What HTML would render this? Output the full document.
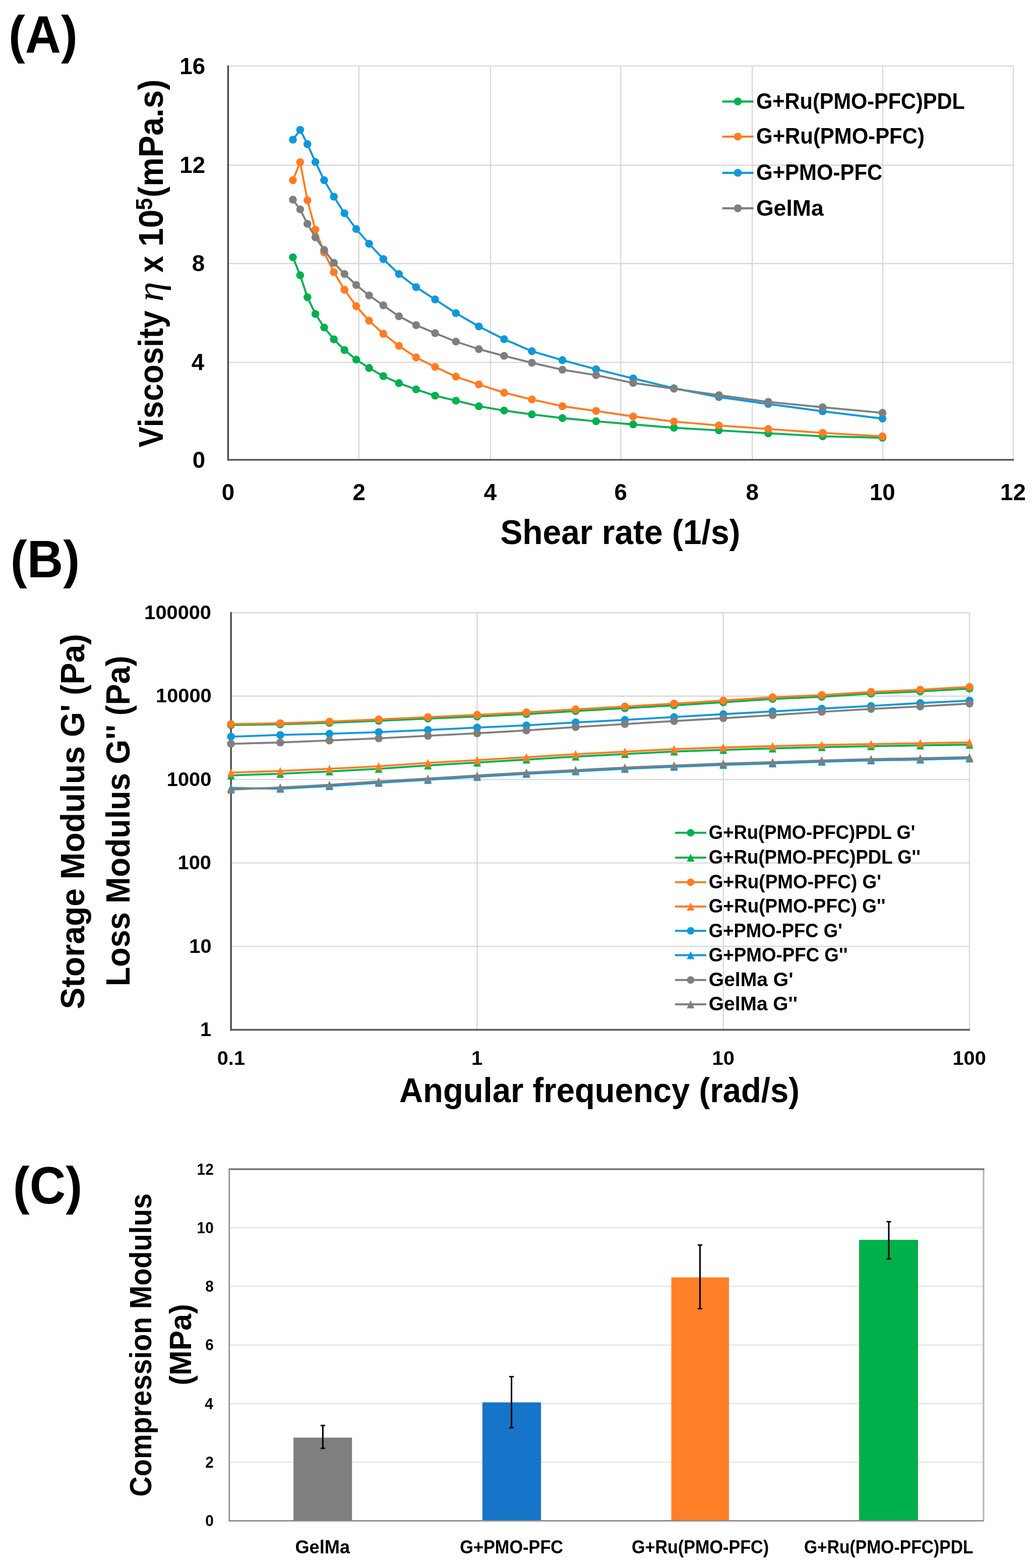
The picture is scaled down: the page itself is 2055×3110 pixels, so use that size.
<!DOCTYPE html>
<html><head><meta charset="utf-8"><title>Figure</title>
<style>html,body{margin:0;padding:0;background:#fff;}svg{display:block;}text{fill:#000;}</style></head><body>
<svg width="2055" height="3110" viewBox="0 0 2055 3110">
<rect width="2055" height="3110" fill="#fff"/>
<line x1="452.5" y1="718.6" x2="2010.1" y2="718.6" stroke="#D9D9D9" stroke-width="2.4"/>
<line x1="452.5" y1="522.8" x2="2010.1" y2="522.8" stroke="#D9D9D9" stroke-width="2.4"/>
<line x1="452.5" y1="327.7" x2="2010.1" y2="327.7" stroke="#D9D9D9" stroke-width="2.4"/>
<line x1="452.5" y1="130.9" x2="2010.1" y2="130.9" stroke="#D9D9D9" stroke-width="2.4"/>
<line x1="711.8" y1="130.9" x2="711.8" y2="912" stroke="#D9D9D9" stroke-width="2.4"/>
<line x1="973" y1="130.9" x2="973" y2="912" stroke="#D9D9D9" stroke-width="2.4"/>
<line x1="1231.4" y1="130.9" x2="1231.4" y2="912" stroke="#D9D9D9" stroke-width="2.4"/>
<line x1="1492.2" y1="130.9" x2="1492.2" y2="912" stroke="#D9D9D9" stroke-width="2.4"/>
<line x1="1751" y1="130.9" x2="1751" y2="912" stroke="#D9D9D9" stroke-width="2.4"/>
<line x1="2010.1" y1="130.9" x2="2010.1" y2="912" stroke="#D9D9D9" stroke-width="2.4"/>
<line x1="452.5" y1="129.9" x2="452.5" y2="913.5" stroke="#444444" stroke-width="3.2"/>
<line x1="451" y1="912" x2="2011.1" y2="912" stroke="#444444" stroke-width="3.2"/>
<polyline points="581,510.3 595.4,546 609.8,589.5 625.6,622.7 643,649.5 662.2,673.1 683.3,694.2 706.6,713.3 732.1,729.9 760.3,746 791.3,759.9 825.4,772.3 863,784.8 904.3,794.7 949.8,805.7 999.9,814.3 1055,821.9 1115.6,829.2 1182.4,835.6 1255.9,841.8 1336.8,848.5 1425.9,853.6 1523.9,859.4 1631.8,865.4 1750.5,868.3" fill="none" stroke="#00B050" stroke-width="3.9" stroke-linejoin="round" stroke-linecap="round"/>
<circle cx="581" cy="510.3" r="7.8" fill="#00B050"/><circle cx="595.4" cy="546" r="7.8" fill="#00B050"/><circle cx="609.8" cy="589.5" r="7.8" fill="#00B050"/><circle cx="625.6" cy="622.7" r="7.8" fill="#00B050"/><circle cx="643" cy="649.5" r="7.8" fill="#00B050"/><circle cx="662.2" cy="673.1" r="7.8" fill="#00B050"/><circle cx="683.3" cy="694.2" r="7.8" fill="#00B050"/><circle cx="706.6" cy="713.3" r="7.8" fill="#00B050"/><circle cx="732.1" cy="729.9" r="7.8" fill="#00B050"/><circle cx="760.3" cy="746" r="7.8" fill="#00B050"/><circle cx="791.3" cy="759.9" r="7.8" fill="#00B050"/><circle cx="825.4" cy="772.3" r="7.8" fill="#00B050"/><circle cx="863" cy="784.8" r="7.8" fill="#00B050"/><circle cx="904.3" cy="794.7" r="7.8" fill="#00B050"/><circle cx="949.8" cy="805.7" r="7.8" fill="#00B050"/><circle cx="999.9" cy="814.3" r="7.8" fill="#00B050"/><circle cx="1055" cy="821.9" r="7.8" fill="#00B050"/><circle cx="1115.6" cy="829.2" r="7.8" fill="#00B050"/><circle cx="1182.4" cy="835.6" r="7.8" fill="#00B050"/><circle cx="1255.9" cy="841.8" r="7.8" fill="#00B050"/><circle cx="1336.8" cy="848.5" r="7.8" fill="#00B050"/><circle cx="1425.9" cy="853.6" r="7.8" fill="#00B050"/><circle cx="1523.9" cy="859.4" r="7.8" fill="#00B050"/><circle cx="1631.8" cy="865.4" r="7.8" fill="#00B050"/><circle cx="1750.5" cy="868.3" r="7.8" fill="#00B050"/>
<polyline points="581,357.4 595.4,321.7 609.8,397.3 625.6,455.5 643,500.8 662.2,539.7 683.3,574.7 706.6,607.4 732.1,636.1 760.3,662 791.3,686 825.4,708.9 863,727.7 904.3,747.1 949.8,762.5 999.9,778.9 1055,792.3 1115.6,805.7 1182.4,815.1 1255.9,826 1336.8,836.1 1425.9,843.9 1523.9,850.9 1631.8,858.6 1750.5,865.4" fill="none" stroke="#FF7C22" stroke-width="3.9" stroke-linejoin="round" stroke-linecap="round"/>
<circle cx="581" cy="357.4" r="7.8" fill="#FF7C22"/><circle cx="595.4" cy="321.7" r="7.8" fill="#FF7C22"/><circle cx="609.8" cy="397.3" r="7.8" fill="#FF7C22"/><circle cx="625.6" cy="455.5" r="7.8" fill="#FF7C22"/><circle cx="643" cy="500.8" r="7.8" fill="#FF7C22"/><circle cx="662.2" cy="539.7" r="7.8" fill="#FF7C22"/><circle cx="683.3" cy="574.7" r="7.8" fill="#FF7C22"/><circle cx="706.6" cy="607.4" r="7.8" fill="#FF7C22"/><circle cx="732.1" cy="636.1" r="7.8" fill="#FF7C22"/><circle cx="760.3" cy="662" r="7.8" fill="#FF7C22"/><circle cx="791.3" cy="686" r="7.8" fill="#FF7C22"/><circle cx="825.4" cy="708.9" r="7.8" fill="#FF7C22"/><circle cx="863" cy="727.7" r="7.8" fill="#FF7C22"/><circle cx="904.3" cy="747.1" r="7.8" fill="#FF7C22"/><circle cx="949.8" cy="762.5" r="7.8" fill="#FF7C22"/><circle cx="999.9" cy="778.9" r="7.8" fill="#FF7C22"/><circle cx="1055" cy="792.3" r="7.8" fill="#FF7C22"/><circle cx="1115.6" cy="805.7" r="7.8" fill="#FF7C22"/><circle cx="1182.4" cy="815.1" r="7.8" fill="#FF7C22"/><circle cx="1255.9" cy="826" r="7.8" fill="#FF7C22"/><circle cx="1336.8" cy="836.1" r="7.8" fill="#FF7C22"/><circle cx="1425.9" cy="843.9" r="7.8" fill="#FF7C22"/><circle cx="1523.9" cy="850.9" r="7.8" fill="#FF7C22"/><circle cx="1631.8" cy="858.6" r="7.8" fill="#FF7C22"/><circle cx="1750.5" cy="865.4" r="7.8" fill="#FF7C22"/>
<polyline points="581,277 595.4,257.6 609.8,285.9 625.6,321.4 643,357.4 662.2,390 683.3,423 706.6,454.2 732.1,483.5 760.3,513.8 791.3,543.6 825.4,569.5 863,593.9 904.3,621 949.8,647.5 999.9,672.7 1055,696.6 1115.6,714.4 1182.4,732.4 1255.9,750.6 1336.8,770 1425.9,787.5 1523.9,801.2 1631.8,815.7 1750.5,830.3" fill="none" stroke="#0E98DC" stroke-width="3.9" stroke-linejoin="round" stroke-linecap="round"/>
<circle cx="581" cy="277" r="7.8" fill="#0E98DC"/><circle cx="595.4" cy="257.6" r="7.8" fill="#0E98DC"/><circle cx="609.8" cy="285.9" r="7.8" fill="#0E98DC"/><circle cx="625.6" cy="321.4" r="7.8" fill="#0E98DC"/><circle cx="643" cy="357.4" r="7.8" fill="#0E98DC"/><circle cx="662.2" cy="390" r="7.8" fill="#0E98DC"/><circle cx="683.3" cy="423" r="7.8" fill="#0E98DC"/><circle cx="706.6" cy="454.2" r="7.8" fill="#0E98DC"/><circle cx="732.1" cy="483.5" r="7.8" fill="#0E98DC"/><circle cx="760.3" cy="513.8" r="7.8" fill="#0E98DC"/><circle cx="791.3" cy="543.6" r="7.8" fill="#0E98DC"/><circle cx="825.4" cy="569.5" r="7.8" fill="#0E98DC"/><circle cx="863" cy="593.9" r="7.8" fill="#0E98DC"/><circle cx="904.3" cy="621" r="7.8" fill="#0E98DC"/><circle cx="949.8" cy="647.5" r="7.8" fill="#0E98DC"/><circle cx="999.9" cy="672.7" r="7.8" fill="#0E98DC"/><circle cx="1055" cy="696.6" r="7.8" fill="#0E98DC"/><circle cx="1115.6" cy="714.4" r="7.8" fill="#0E98DC"/><circle cx="1182.4" cy="732.4" r="7.8" fill="#0E98DC"/><circle cx="1255.9" cy="750.6" r="7.8" fill="#0E98DC"/><circle cx="1336.8" cy="770" r="7.8" fill="#0E98DC"/><circle cx="1425.9" cy="787.5" r="7.8" fill="#0E98DC"/><circle cx="1523.9" cy="801.2" r="7.8" fill="#0E98DC"/><circle cx="1631.8" cy="815.7" r="7.8" fill="#0E98DC"/><circle cx="1750.5" cy="830.3" r="7.8" fill="#0E98DC"/>
<polyline points="581,396 595.4,415.3 609.8,444 625.6,470.8 643,495.7 662.2,521.2 683.3,543.5 706.6,565.2 732.1,586 760.3,605.6 791.3,627.3 825.4,644.9 863,660.8 904.3,677.5 949.8,692.5 999.9,705.8 1055,719.6 1115.6,733.3 1182.4,744.1 1255.9,759.6 1336.8,771 1425.9,783.7 1523.9,797.1 1631.8,807.7 1750.5,818.9" fill="none" stroke="#7F7F7F" stroke-width="3.9" stroke-linejoin="round" stroke-linecap="round"/>
<circle cx="581" cy="396" r="7.8" fill="#7F7F7F"/><circle cx="595.4" cy="415.3" r="7.8" fill="#7F7F7F"/><circle cx="609.8" cy="444" r="7.8" fill="#7F7F7F"/><circle cx="625.6" cy="470.8" r="7.8" fill="#7F7F7F"/><circle cx="643" cy="495.7" r="7.8" fill="#7F7F7F"/><circle cx="662.2" cy="521.2" r="7.8" fill="#7F7F7F"/><circle cx="683.3" cy="543.5" r="7.8" fill="#7F7F7F"/><circle cx="706.6" cy="565.2" r="7.8" fill="#7F7F7F"/><circle cx="732.1" cy="586" r="7.8" fill="#7F7F7F"/><circle cx="760.3" cy="605.6" r="7.8" fill="#7F7F7F"/><circle cx="791.3" cy="627.3" r="7.8" fill="#7F7F7F"/><circle cx="825.4" cy="644.9" r="7.8" fill="#7F7F7F"/><circle cx="863" cy="660.8" r="7.8" fill="#7F7F7F"/><circle cx="904.3" cy="677.5" r="7.8" fill="#7F7F7F"/><circle cx="949.8" cy="692.5" r="7.8" fill="#7F7F7F"/><circle cx="999.9" cy="705.8" r="7.8" fill="#7F7F7F"/><circle cx="1055" cy="719.6" r="7.8" fill="#7F7F7F"/><circle cx="1115.6" cy="733.3" r="7.8" fill="#7F7F7F"/><circle cx="1182.4" cy="744.1" r="7.8" fill="#7F7F7F"/><circle cx="1255.9" cy="759.6" r="7.8" fill="#7F7F7F"/><circle cx="1336.8" cy="771" r="7.8" fill="#7F7F7F"/><circle cx="1425.9" cy="783.7" r="7.8" fill="#7F7F7F"/><circle cx="1523.9" cy="797.1" r="7.8" fill="#7F7F7F"/><circle cx="1631.8" cy="807.7" r="7.8" fill="#7F7F7F"/><circle cx="1750.5" cy="818.9" r="7.8" fill="#7F7F7F"/>
<line x1="1432.7" y1="201.3" x2="1494.7" y2="201.3" stroke="#00B050" stroke-width="4.2"/>
<circle cx="1463.5" cy="201.3" r="7.8" fill="#00B050"/>
<line x1="1432.7" y1="271" x2="1494.7" y2="271" stroke="#FF7C22" stroke-width="4.2"/>
<circle cx="1463.5" cy="271" r="7.8" fill="#FF7C22"/>
<line x1="1432.7" y1="342.8" x2="1494.7" y2="342.8" stroke="#0E98DC" stroke-width="4.2"/>
<circle cx="1463.5" cy="342.8" r="7.8" fill="#0E98DC"/>
<line x1="1432.7" y1="413.1" x2="1494.7" y2="413.1" stroke="#7F7F7F" stroke-width="4.2"/>
<circle cx="1463.5" cy="413.1" r="7.8" fill="#7F7F7F"/>
<line x1="458.2" y1="1877" x2="1923.1" y2="1877" stroke="#D9D9D9" stroke-width="2.4"/>
<line x1="458.2" y1="1711.6" x2="1923.1" y2="1711.6" stroke="#D9D9D9" stroke-width="2.4"/>
<line x1="458.2" y1="1546.1" x2="1923.1" y2="1546.1" stroke="#D9D9D9" stroke-width="2.4"/>
<line x1="458.2" y1="1380.7" x2="1923.1" y2="1380.7" stroke="#D9D9D9" stroke-width="2.4"/>
<line x1="458.2" y1="1215.2" x2="1923.1" y2="1215.2" stroke="#D9D9D9" stroke-width="2.4"/>
<line x1="946.5" y1="1215.2" x2="946.5" y2="2042.5" stroke="#D9D9D9" stroke-width="2.4"/>
<line x1="1434.8" y1="1215.2" x2="1434.8" y2="2042.5" stroke="#D9D9D9" stroke-width="2.4"/>
<line x1="1923.1" y1="1215.2" x2="1923.1" y2="2042.5" stroke="#D9D9D9" stroke-width="2.4"/>
<line x1="458.2" y1="1214.2" x2="458.2" y2="2044.5" stroke="#444444" stroke-width="3.2"/>
<line x1="456.7" y1="2042.5" x2="1924.1" y2="2042.5" stroke="#5A5A5A" stroke-width="3.6"/>
<polyline points="458.2,1438.2 555.9,1436.7 653.5,1433.7 751.2,1429.7 848.8,1425.3 946.5,1421.1 1044.2,1416.3 1141.8,1410.3 1239.5,1404.7 1337.1,1399 1434.8,1392.9 1532.5,1386.3 1630.1,1382 1727.8,1375.7 1825.4,1371.4 1923.1,1365.8" fill="none" stroke="#00B050" stroke-width="3.8" stroke-linejoin="round" stroke-linecap="round"/>
<circle cx="458.2" cy="1438.2" r="7.8" fill="#00B050"/><circle cx="555.9" cy="1436.7" r="7.8" fill="#00B050"/><circle cx="653.5" cy="1433.7" r="7.8" fill="#00B050"/><circle cx="751.2" cy="1429.7" r="7.8" fill="#00B050"/><circle cx="848.8" cy="1425.3" r="7.8" fill="#00B050"/><circle cx="946.5" cy="1421.1" r="7.8" fill="#00B050"/><circle cx="1044.2" cy="1416.3" r="7.8" fill="#00B050"/><circle cx="1141.8" cy="1410.3" r="7.8" fill="#00B050"/><circle cx="1239.5" cy="1404.7" r="7.8" fill="#00B050"/><circle cx="1337.1" cy="1399" r="7.8" fill="#00B050"/><circle cx="1434.8" cy="1392.9" r="7.8" fill="#00B050"/><circle cx="1532.5" cy="1386.3" r="7.8" fill="#00B050"/><circle cx="1630.1" cy="1382" r="7.8" fill="#00B050"/><circle cx="1727.8" cy="1375.7" r="7.8" fill="#00B050"/><circle cx="1825.4" cy="1371.4" r="7.8" fill="#00B050"/><circle cx="1923.1" cy="1365.8" r="7.8" fill="#00B050"/>
<polyline points="458.2,1537.9 555.9,1534.7 653.5,1530.1 751.2,1524.8 848.8,1518.2 946.5,1512.4 1044.2,1506.6 1141.8,1500.6 1239.5,1495.6 1337.1,1490.6 1434.8,1487.3 1532.5,1484.4 1630.1,1481.8 1727.8,1480.1 1825.4,1478.4 1923.1,1477" fill="none" stroke="#00B050" stroke-width="3.8" stroke-linejoin="round" stroke-linecap="round"/>
<path d="M458.2 1529.9L465.7 1545.9L450.7 1545.9Z" fill="#00B050"/><path d="M555.9 1526.7L563.4 1542.7L548.4 1542.7Z" fill="#00B050"/><path d="M653.5 1522.1L661 1538.1L646 1538.1Z" fill="#00B050"/><path d="M751.2 1516.8L758.7 1532.8L743.7 1532.8Z" fill="#00B050"/><path d="M848.8 1510.2L856.3 1526.2L841.3 1526.2Z" fill="#00B050"/><path d="M946.5 1504.4L954 1520.4L939 1520.4Z" fill="#00B050"/><path d="M1044.2 1498.6L1051.7 1514.6L1036.7 1514.6Z" fill="#00B050"/><path d="M1141.8 1492.6L1149.3 1508.6L1134.3 1508.6Z" fill="#00B050"/><path d="M1239.5 1487.6L1247 1503.6L1232 1503.6Z" fill="#00B050"/><path d="M1337.1 1482.6L1344.6 1498.6L1329.6 1498.6Z" fill="#00B050"/><path d="M1434.8 1479.3L1442.3 1495.3L1427.3 1495.3Z" fill="#00B050"/><path d="M1532.5 1476.4L1540 1492.4L1525 1492.4Z" fill="#00B050"/><path d="M1630.1 1473.8L1637.6 1489.8L1622.6 1489.8Z" fill="#00B050"/><path d="M1727.8 1472.1L1735.3 1488.1L1720.3 1488.1Z" fill="#00B050"/><path d="M1825.4 1470.4L1832.9 1486.4L1817.9 1486.4Z" fill="#00B050"/><path d="M1923.1 1469L1930.6 1485L1915.6 1485Z" fill="#00B050"/>
<polyline points="458.2,1436.2 555.9,1434.5 653.5,1431.2 751.2,1426.9 848.8,1422.3 946.5,1417.9 1044.2,1412.9 1141.8,1406.9 1239.5,1401.3 1337.1,1395.6 1434.8,1389.5 1532.5,1382.9 1630.1,1378.6 1727.8,1372.3 1825.4,1368 1923.1,1362.4" fill="none" stroke="#FF7C22" stroke-width="3.8" stroke-linejoin="round" stroke-linecap="round"/>
<circle cx="458.2" cy="1436.2" r="7.8" fill="#FF7C22"/><circle cx="555.9" cy="1434.5" r="7.8" fill="#FF7C22"/><circle cx="653.5" cy="1431.2" r="7.8" fill="#FF7C22"/><circle cx="751.2" cy="1426.9" r="7.8" fill="#FF7C22"/><circle cx="848.8" cy="1422.3" r="7.8" fill="#FF7C22"/><circle cx="946.5" cy="1417.9" r="7.8" fill="#FF7C22"/><circle cx="1044.2" cy="1412.9" r="7.8" fill="#FF7C22"/><circle cx="1141.8" cy="1406.9" r="7.8" fill="#FF7C22"/><circle cx="1239.5" cy="1401.3" r="7.8" fill="#FF7C22"/><circle cx="1337.1" cy="1395.6" r="7.8" fill="#FF7C22"/><circle cx="1434.8" cy="1389.5" r="7.8" fill="#FF7C22"/><circle cx="1532.5" cy="1382.9" r="7.8" fill="#FF7C22"/><circle cx="1630.1" cy="1378.6" r="7.8" fill="#FF7C22"/><circle cx="1727.8" cy="1372.3" r="7.8" fill="#FF7C22"/><circle cx="1825.4" cy="1368" r="7.8" fill="#FF7C22"/><circle cx="1923.1" cy="1362.4" r="7.8" fill="#FF7C22"/>
<polyline points="458.2,1532.4 555.9,1529.2 653.5,1524.8 751.2,1519.8 848.8,1513.2 946.5,1507.6 1044.2,1501.8 1141.8,1495.8 1239.5,1490.8 1337.1,1485.8 1434.8,1482.5 1532.5,1479.8 1630.1,1477.4 1727.8,1475.8 1825.4,1474.1 1923.1,1472.5" fill="none" stroke="#FF7C22" stroke-width="3.8" stroke-linejoin="round" stroke-linecap="round"/>
<path d="M458.2 1524.4L465.7 1540.4L450.7 1540.4Z" fill="#FF7C22"/><path d="M555.9 1521.2L563.4 1537.2L548.4 1537.2Z" fill="#FF7C22"/><path d="M653.5 1516.8L661 1532.8L646 1532.8Z" fill="#FF7C22"/><path d="M751.2 1511.8L758.7 1527.8L743.7 1527.8Z" fill="#FF7C22"/><path d="M848.8 1505.2L856.3 1521.2L841.3 1521.2Z" fill="#FF7C22"/><path d="M946.5 1499.6L954 1515.6L939 1515.6Z" fill="#FF7C22"/><path d="M1044.2 1493.8L1051.7 1509.8L1036.7 1509.8Z" fill="#FF7C22"/><path d="M1141.8 1487.8L1149.3 1503.8L1134.3 1503.8Z" fill="#FF7C22"/><path d="M1239.5 1482.8L1247 1498.8L1232 1498.8Z" fill="#FF7C22"/><path d="M1337.1 1477.8L1344.6 1493.8L1329.6 1493.8Z" fill="#FF7C22"/><path d="M1434.8 1474.5L1442.3 1490.5L1427.3 1490.5Z" fill="#FF7C22"/><path d="M1532.5 1471.8L1540 1487.8L1525 1487.8Z" fill="#FF7C22"/><path d="M1630.1 1469.4L1637.6 1485.4L1622.6 1485.4Z" fill="#FF7C22"/><path d="M1727.8 1467.8L1735.3 1483.8L1720.3 1483.8Z" fill="#FF7C22"/><path d="M1825.4 1466.1L1832.9 1482.1L1817.9 1482.1Z" fill="#FF7C22"/><path d="M1923.1 1464.5L1930.6 1480.5L1915.6 1480.5Z" fill="#FF7C22"/>
<polyline points="458.2,1461.1 555.9,1457.7 653.5,1455.4 751.2,1452.1 848.8,1447.8 946.5,1443.1 1044.2,1438.7 1141.8,1432.8 1239.5,1427.8 1337.1,1422.2 1434.8,1416.5 1532.5,1411.1 1630.1,1405.5 1727.8,1400.2 1825.4,1394.5 1923.1,1389.6" fill="none" stroke="#0E98DC" stroke-width="3.8" stroke-linejoin="round" stroke-linecap="round"/>
<circle cx="458.2" cy="1461.1" r="7.8" fill="#0E98DC"/><circle cx="555.9" cy="1457.7" r="7.8" fill="#0E98DC"/><circle cx="653.5" cy="1455.4" r="7.8" fill="#0E98DC"/><circle cx="751.2" cy="1452.1" r="7.8" fill="#0E98DC"/><circle cx="848.8" cy="1447.8" r="7.8" fill="#0E98DC"/><circle cx="946.5" cy="1443.1" r="7.8" fill="#0E98DC"/><circle cx="1044.2" cy="1438.7" r="7.8" fill="#0E98DC"/><circle cx="1141.8" cy="1432.8" r="7.8" fill="#0E98DC"/><circle cx="1239.5" cy="1427.8" r="7.8" fill="#0E98DC"/><circle cx="1337.1" cy="1422.2" r="7.8" fill="#0E98DC"/><circle cx="1434.8" cy="1416.5" r="7.8" fill="#0E98DC"/><circle cx="1532.5" cy="1411.1" r="7.8" fill="#0E98DC"/><circle cx="1630.1" cy="1405.5" r="7.8" fill="#0E98DC"/><circle cx="1727.8" cy="1400.2" r="7.8" fill="#0E98DC"/><circle cx="1825.4" cy="1394.5" r="7.8" fill="#0E98DC"/><circle cx="1923.1" cy="1389.6" r="7.8" fill="#0E98DC"/>
<polyline points="458.2,1563 555.9,1564.3 653.5,1559.1 751.2,1552.5 848.8,1546.7 946.5,1540.7 1044.2,1534.8 1141.8,1529.8 1239.5,1524.8 1337.1,1520.8 1434.8,1517 1532.5,1514.1 1630.1,1510.8 1727.8,1508.1 1825.4,1506.5 1923.1,1504.2" fill="none" stroke="#0E98DC" stroke-width="3.8" stroke-linejoin="round" stroke-linecap="round"/>
<path d="M458.2 1555L465.7 1571L450.7 1571Z" fill="#0E98DC"/><path d="M555.9 1556.3L563.4 1572.3L548.4 1572.3Z" fill="#0E98DC"/><path d="M653.5 1551.1L661 1567.1L646 1567.1Z" fill="#0E98DC"/><path d="M751.2 1544.5L758.7 1560.5L743.7 1560.5Z" fill="#0E98DC"/><path d="M848.8 1538.7L856.3 1554.7L841.3 1554.7Z" fill="#0E98DC"/><path d="M946.5 1532.7L954 1548.7L939 1548.7Z" fill="#0E98DC"/><path d="M1044.2 1526.8L1051.7 1542.8L1036.7 1542.8Z" fill="#0E98DC"/><path d="M1141.8 1521.8L1149.3 1537.8L1134.3 1537.8Z" fill="#0E98DC"/><path d="M1239.5 1516.8L1247 1532.8L1232 1532.8Z" fill="#0E98DC"/><path d="M1337.1 1512.8L1344.6 1528.8L1329.6 1528.8Z" fill="#0E98DC"/><path d="M1434.8 1509L1442.3 1525L1427.3 1525Z" fill="#0E98DC"/><path d="M1532.5 1506.1L1540 1522.1L1525 1522.1Z" fill="#0E98DC"/><path d="M1630.1 1502.8L1637.6 1518.8L1622.6 1518.8Z" fill="#0E98DC"/><path d="M1727.8 1500.1L1735.3 1516.1L1720.3 1516.1Z" fill="#0E98DC"/><path d="M1825.4 1498.5L1832.9 1514.5L1817.9 1514.5Z" fill="#0E98DC"/><path d="M1923.1 1496.2L1930.6 1512.2L1915.6 1512.2Z" fill="#0E98DC"/>
<polyline points="458.2,1475.3 555.9,1472.7 653.5,1468.7 751.2,1464.4 848.8,1459.4 946.5,1454.4 1044.2,1448.7 1141.8,1442.1 1239.5,1436.1 1337.1,1430.1 1434.8,1424.5 1532.5,1418.4 1630.1,1411.8 1727.8,1406.1 1825.4,1401.2 1923.1,1395.5" fill="none" stroke="#7F7F7F" stroke-width="3.8" stroke-linejoin="round" stroke-linecap="round"/>
<circle cx="458.2" cy="1475.3" r="7.8" fill="#7F7F7F"/><circle cx="555.9" cy="1472.7" r="7.8" fill="#7F7F7F"/><circle cx="653.5" cy="1468.7" r="7.8" fill="#7F7F7F"/><circle cx="751.2" cy="1464.4" r="7.8" fill="#7F7F7F"/><circle cx="848.8" cy="1459.4" r="7.8" fill="#7F7F7F"/><circle cx="946.5" cy="1454.4" r="7.8" fill="#7F7F7F"/><circle cx="1044.2" cy="1448.7" r="7.8" fill="#7F7F7F"/><circle cx="1141.8" cy="1442.1" r="7.8" fill="#7F7F7F"/><circle cx="1239.5" cy="1436.1" r="7.8" fill="#7F7F7F"/><circle cx="1337.1" cy="1430.1" r="7.8" fill="#7F7F7F"/><circle cx="1434.8" cy="1424.5" r="7.8" fill="#7F7F7F"/><circle cx="1532.5" cy="1418.4" r="7.8" fill="#7F7F7F"/><circle cx="1630.1" cy="1411.8" r="7.8" fill="#7F7F7F"/><circle cx="1727.8" cy="1406.1" r="7.8" fill="#7F7F7F"/><circle cx="1825.4" cy="1401.2" r="7.8" fill="#7F7F7F"/><circle cx="1923.1" cy="1395.5" r="7.8" fill="#7F7F7F"/>
<polyline points="458.2,1566 555.9,1561.8 653.5,1556.6 751.2,1550 848.8,1544.2 946.5,1538.2 1044.2,1532.3 1141.8,1527.3 1239.5,1522.3 1337.1,1518.3 1434.8,1514.5 1532.5,1511.6 1630.1,1508.3 1727.8,1505.6 1825.4,1504 1923.1,1501.7" fill="none" stroke="#7F7F7F" stroke-width="3.8" stroke-linejoin="round" stroke-linecap="round"/>
<path d="M458.2 1558L465.7 1574L450.7 1574Z" fill="#7F7F7F"/><path d="M555.9 1553.8L563.4 1569.8L548.4 1569.8Z" fill="#7F7F7F"/><path d="M653.5 1548.6L661 1564.6L646 1564.6Z" fill="#7F7F7F"/><path d="M751.2 1542L758.7 1558L743.7 1558Z" fill="#7F7F7F"/><path d="M848.8 1536.2L856.3 1552.2L841.3 1552.2Z" fill="#7F7F7F"/><path d="M946.5 1530.2L954 1546.2L939 1546.2Z" fill="#7F7F7F"/><path d="M1044.2 1524.3L1051.7 1540.3L1036.7 1540.3Z" fill="#7F7F7F"/><path d="M1141.8 1519.3L1149.3 1535.3L1134.3 1535.3Z" fill="#7F7F7F"/><path d="M1239.5 1514.3L1247 1530.3L1232 1530.3Z" fill="#7F7F7F"/><path d="M1337.1 1510.3L1344.6 1526.3L1329.6 1526.3Z" fill="#7F7F7F"/><path d="M1434.8 1506.5L1442.3 1522.5L1427.3 1522.5Z" fill="#7F7F7F"/><path d="M1532.5 1503.6L1540 1519.6L1525 1519.6Z" fill="#7F7F7F"/><path d="M1630.1 1500.3L1637.6 1516.3L1622.6 1516.3Z" fill="#7F7F7F"/><path d="M1727.8 1497.6L1735.3 1513.6L1720.3 1513.6Z" fill="#7F7F7F"/><path d="M1825.4 1496L1832.9 1512L1817.9 1512Z" fill="#7F7F7F"/><path d="M1923.1 1493.7L1930.6 1509.7L1915.6 1509.7Z" fill="#7F7F7F"/>
<line x1="1338.9" y1="1651.7" x2="1400.9" y2="1651.7" stroke="#00B050" stroke-width="4.0"/>
<circle cx="1369.9" cy="1651.7" r="7.4" fill="#00B050"/>
<line x1="1338.9" y1="1700.9" x2="1400.9" y2="1700.9" stroke="#00B050" stroke-width="4.0"/>
<path d="M1369.9 1692.9L1377.4 1708.9L1362.4 1708.9Z" fill="#00B050"/>
<line x1="1338.9" y1="1749.8" x2="1400.9" y2="1749.8" stroke="#FF7C22" stroke-width="4.0"/>
<circle cx="1369.9" cy="1749.8" r="7.4" fill="#FF7C22"/>
<line x1="1338.9" y1="1798" x2="1400.9" y2="1798" stroke="#FF7C22" stroke-width="4.0"/>
<path d="M1369.9 1790L1377.4 1806L1362.4 1806Z" fill="#FF7C22"/>
<line x1="1338.9" y1="1846.2" x2="1400.9" y2="1846.2" stroke="#0E98DC" stroke-width="4.0"/>
<circle cx="1369.9" cy="1846.2" r="7.4" fill="#0E98DC"/>
<line x1="1338.9" y1="1894.4" x2="1400.9" y2="1894.4" stroke="#0E98DC" stroke-width="4.0"/>
<path d="M1369.9 1886.4L1377.4 1902.4L1362.4 1902.4Z" fill="#0E98DC"/>
<line x1="1338.9" y1="1943.7" x2="1400.9" y2="1943.7" stroke="#7F7F7F" stroke-width="4.0"/>
<circle cx="1369.9" cy="1943.7" r="7.4" fill="#7F7F7F"/>
<line x1="1338.9" y1="1991.9" x2="1400.9" y2="1991.9" stroke="#7F7F7F" stroke-width="4.0"/>
<path d="M1369.9 1983.9L1377.4 1999.9L1362.4 1999.9Z" fill="#7F7F7F"/>
<line x1="454.8" y1="2900.2" x2="1950.3" y2="2900.2" stroke="#E6E6E6" stroke-width="2.6"/>
<line x1="454.8" y1="2783.9" x2="1950.3" y2="2783.9" stroke="#E6E6E6" stroke-width="2.6"/>
<line x1="454.8" y1="2667.7" x2="1950.3" y2="2667.7" stroke="#E6E6E6" stroke-width="2.6"/>
<line x1="454.8" y1="2551.5" x2="1950.3" y2="2551.5" stroke="#E6E6E6" stroke-width="2.6"/>
<line x1="454.8" y1="2435.2" x2="1950.3" y2="2435.2" stroke="#E6E6E6" stroke-width="2.6"/>
<line x1="1950.9" y1="2319" x2="1950.9" y2="3016.4" stroke="#B9B9B9" stroke-width="3.2"/>
<line x1="453.8" y1="2319" x2="1952.5" y2="2319" stroke="#737373" stroke-width="3.6"/>
<line x1="454.8" y1="2317.5" x2="454.8" y2="3017.9" stroke="#8C8C8C" stroke-width="2.6"/>
<rect x="582.1" y="2851.4" width="116.1" height="165" fill="#7F7F7F"/>
<rect x="956.9" y="2781.5" width="116.3" height="234.9" fill="#1674C9"/>
<rect x="1331.6" y="2533.6" width="114.4" height="482.8" fill="#FF7F27"/>
<rect x="1704.1" y="2459.1" width="116.9" height="557.3" fill="#00B04A"/>
<line x1="453.8" y1="3016.4" x2="1951.3" y2="3016.4" stroke="#8A8A8A" stroke-width="2.8"/>
<line x1="640.4" y1="2826.4" x2="640.4" y2="2873.6" stroke="#000" stroke-width="3.0"/>
<line x1="635.9" y1="2827.4" x2="644.9" y2="2827.4" stroke="#000" stroke-width="3.0"/>
<line x1="635.9" y1="2872.6" x2="644.9" y2="2872.6" stroke="#000" stroke-width="3.0"/>
<line x1="1014.6" y1="2729.5" x2="1014.6" y2="2832.8" stroke="#000" stroke-width="3.0"/>
<line x1="1010.1" y1="2730.5" x2="1019.1" y2="2730.5" stroke="#000" stroke-width="3.0"/>
<line x1="1010.1" y1="2831.8" x2="1019.1" y2="2831.8" stroke="#000" stroke-width="3.0"/>
<line x1="1388.5" y1="2468.4" x2="1388.5" y2="2596.6" stroke="#000" stroke-width="3.0"/>
<line x1="1384" y1="2469.4" x2="1393" y2="2469.4" stroke="#000" stroke-width="3.0"/>
<line x1="1384" y1="2595.6" x2="1393" y2="2595.6" stroke="#000" stroke-width="3.0"/>
<line x1="1763" y1="2422.1" x2="1763" y2="2497.8" stroke="#000" stroke-width="3.0"/>
<line x1="1758.5" y1="2423.1" x2="1767.5" y2="2423.1" stroke="#000" stroke-width="3.0"/>
<line x1="1758.5" y1="2496.8" x2="1767.5" y2="2496.8" stroke="#000" stroke-width="3.0"/>
<text x="16.91" y="104.00" font-family='"Liberation Sans", Arial, sans-serif' font-size="103" font-weight="bold" textLength="136.86" lengthAdjust="spacingAndGlyphs">(A)</text>
<text x="20.72" y="1145.00" font-family='"Liberation Sans", Arial, sans-serif' font-size="103.5" font-weight="bold" textLength="137.47" lengthAdjust="spacingAndGlyphs">(B)</text>
<text x="25.82" y="2387.00" font-family='"Liberation Sans", Arial, sans-serif' font-size="103.5" font-weight="bold" textLength="137.47" lengthAdjust="spacingAndGlyphs">(C)</text>
<text x="381.81" y="927.60" font-family='"Liberation Sans", Arial, sans-serif' font-size="46.5" font-weight="bold" textLength="25.43" lengthAdjust="spacingAndGlyphs">0</text>
<text x="379.84" y="734.20" font-family='"Liberation Sans", Arial, sans-serif' font-size="46.5" font-weight="bold" textLength="25.43" lengthAdjust="spacingAndGlyphs">4</text>
<text x="380.83" y="538.40" font-family='"Liberation Sans", Arial, sans-serif' font-size="46.5" font-weight="bold" textLength="25.43" lengthAdjust="spacingAndGlyphs">8</text>
<text x="356.25" y="343.30" font-family='"Liberation Sans", Arial, sans-serif' font-size="46.5" font-weight="bold" textLength="50.85" lengthAdjust="spacingAndGlyphs">12</text>
<text x="356.25" y="146.50" font-family='"Liberation Sans", Arial, sans-serif' font-size="46.5" font-weight="bold" textLength="50.85" lengthAdjust="spacingAndGlyphs">16</text>
<text x="439.72" y="992.00" font-family='"Liberation Sans", Arial, sans-serif' font-size="46.5" font-weight="bold" textLength="25.43" lengthAdjust="spacingAndGlyphs">0</text>
<text x="699.51" y="992.00" font-family='"Liberation Sans", Arial, sans-serif' font-size="46.5" font-weight="bold" textLength="25.43" lengthAdjust="spacingAndGlyphs">2</text>
<text x="959.73" y="992.00" font-family='"Liberation Sans", Arial, sans-serif' font-size="46.5" font-weight="bold" textLength="25.43" lengthAdjust="spacingAndGlyphs">4</text>
<text x="1218.62" y="992.00" font-family='"Liberation Sans", Arial, sans-serif' font-size="46.5" font-weight="bold" textLength="25.43" lengthAdjust="spacingAndGlyphs">6</text>
<text x="1479.42" y="992.00" font-family='"Liberation Sans", Arial, sans-serif' font-size="46.5" font-weight="bold" textLength="25.43" lengthAdjust="spacingAndGlyphs">8</text>
<text x="1724.95" y="992.00" font-family='"Liberation Sans", Arial, sans-serif' font-size="46.5" font-weight="bold" textLength="50.85" lengthAdjust="spacingAndGlyphs">10</text>
<text x="1984.05" y="992.00" font-family='"Liberation Sans", Arial, sans-serif' font-size="46.5" font-weight="bold" textLength="50.85" lengthAdjust="spacingAndGlyphs">12</text>
<text x="992.38" y="1078.90" font-family='"Liberation Sans", Arial, sans-serif' font-size="68.6" font-weight="bold" textLength="476.12" lengthAdjust="spacingAndGlyphs">Shear rate (1/s)</text>
<text transform="translate(323.20 0.00) rotate(-90)" x="-887.41" y="0" font-family='"Liberation Sans", Arial, sans-serif' font-size="68" font-weight="bold" textLength="271.25" lengthAdjust="spacingAndGlyphs">Viscosity</text>
<text transform="translate(323.20 0.00) rotate(-90)" x="-598.21" y="0" font-family='"Liberation Serif", "DejaVu Serif", serif' font-size="74" font-weight="normal" font-style="italic" textLength="39.32" lengthAdjust="spacingAndGlyphs">η</text>
<text transform="translate(322.90 0.00) rotate(-90)" x="-540.67" y="0" font-family='"Liberation Sans", Arial, sans-serif' font-size="68" font-weight="bold" textLength="33.10" lengthAdjust="spacingAndGlyphs">x</text>
<text transform="translate(322.90 0.00) rotate(-90)" x="-489.20" y="0" font-family='"Liberation Sans", Arial, sans-serif' font-size="68" font-weight="bold" textLength="73.67" lengthAdjust="spacingAndGlyphs">10</text>
<text transform="translate(302.20 0.00) rotate(-90)" x="-417.08" y="0" font-family='"Liberation Sans", Arial, sans-serif' font-size="46.5" font-weight="bold" textLength="24.30" lengthAdjust="spacingAndGlyphs">5</text>
<text transform="translate(322.80 0.00) rotate(-90)" x="-391.46" y="0" font-family='"Liberation Sans", Arial, sans-serif' font-size="68" font-weight="bold" textLength="234.13" lengthAdjust="spacingAndGlyphs">(mPa.s)</text>
<text x="1500.09" y="215.70" font-family='"Liberation Sans", Arial, sans-serif' font-size="43.5" font-weight="bold" textLength="413.75" lengthAdjust="spacingAndGlyphs">G+Ru(PMO-PFC)PDL</text>
<text x="1500.07" y="285.40" font-family='"Liberation Sans", Arial, sans-serif' font-size="43.5" font-weight="bold" textLength="333.84" lengthAdjust="spacingAndGlyphs">G+Ru(PMO-PFC)</text>
<text x="1500.07" y="357.20" font-family='"Liberation Sans", Arial, sans-serif' font-size="43.5" font-weight="bold" textLength="250.21" lengthAdjust="spacingAndGlyphs">G+PMO-PFC</text>
<text x="1499.95" y="427.50" font-family='"Liberation Sans", Arial, sans-serif' font-size="43.5" font-weight="bold" textLength="133.79" lengthAdjust="spacingAndGlyphs">GelMa</text>
<text x="397.10" y="2055.10" font-family='"Liberation Sans", Arial, sans-serif' font-size="38.4" font-weight="bold" textLength="22.11" lengthAdjust="spacingAndGlyphs">1</text>
<text x="375.36" y="1889.64" font-family='"Liberation Sans", Arial, sans-serif' font-size="38.4" font-weight="bold" textLength="44.21" lengthAdjust="spacingAndGlyphs">10</text>
<text x="352.58" y="1724.18" font-family='"Liberation Sans", Arial, sans-serif' font-size="38.4" font-weight="bold" textLength="66.32" lengthAdjust="spacingAndGlyphs">100</text>
<text x="330.84" y="1558.72" font-family='"Liberation Sans", Arial, sans-serif' font-size="38.4" font-weight="bold" textLength="88.41" lengthAdjust="spacingAndGlyphs">1000</text>
<text x="309.10" y="1393.26" font-family='"Liberation Sans", Arial, sans-serif' font-size="38.4" font-weight="bold" textLength="110.52" lengthAdjust="spacingAndGlyphs">10000</text>
<text x="286.33" y="1227.80" font-family='"Liberation Sans", Arial, sans-serif' font-size="38.4" font-weight="bold" textLength="132.62" lengthAdjust="spacingAndGlyphs">100000</text>
<text x="430.77" y="2112.40" font-family='"Liberation Sans", Arial, sans-serif' font-size="38.4" font-weight="bold" textLength="55.25" lengthAdjust="spacingAndGlyphs">0.1</text>
<text x="935.11" y="2112.40" font-family='"Liberation Sans", Arial, sans-serif' font-size="38.4" font-weight="bold" textLength="22.11" lengthAdjust="spacingAndGlyphs">1</text>
<text x="1412.54" y="2112.40" font-family='"Liberation Sans", Arial, sans-serif' font-size="38.4" font-weight="bold" textLength="44.21" lengthAdjust="spacingAndGlyphs">10</text>
<text x="1889.46" y="2112.40" font-family='"Liberation Sans", Arial, sans-serif' font-size="38.4" font-weight="bold" textLength="66.32" lengthAdjust="spacingAndGlyphs">100</text>
<text x="791.91" y="2185.80" font-family='"Liberation Sans", Arial, sans-serif' font-size="68.9" font-weight="bold" textLength="794.05" lengthAdjust="spacingAndGlyphs">Angular frequency (rad/s)</text>
<text transform="translate(167.20 0.00) rotate(-90)" x="-2001.40" y="0" font-family='"Liberation Sans", Arial, sans-serif' font-size="67.5" font-weight="bold" textLength="743.97" lengthAdjust="spacingAndGlyphs">Storage Modulus G' (Pa)</text>
<text transform="translate(257.20 0.00) rotate(-90)" x="-1956.23" y="0" font-family='"Liberation Sans", Arial, sans-serif' font-size="67.5" font-weight="bold" textLength="655.59" lengthAdjust="spacingAndGlyphs">Loss Modulus G'' (Pa)</text>
<text x="1405.85" y="1664.00" font-family='"Liberation Sans", Arial, sans-serif' font-size="38.2" font-weight="bold" textLength="409.68" lengthAdjust="spacingAndGlyphs">G+Ru(PMO-PFC)PDL G'</text>
<text x="1405.84" y="1713.20" font-family='"Liberation Sans", Arial, sans-serif' font-size="38.2" font-weight="bold" textLength="420.17" lengthAdjust="spacingAndGlyphs">G+Ru(PMO-PFC)PDL G''</text>
<text x="1405.83" y="1762.10" font-family='"Liberation Sans", Arial, sans-serif' font-size="38.2" font-weight="bold" textLength="342.22" lengthAdjust="spacingAndGlyphs">G+Ru(PMO-PFC) G'</text>
<text x="1405.83" y="1810.30" font-family='"Liberation Sans", Arial, sans-serif' font-size="38.2" font-weight="bold" textLength="350.61" lengthAdjust="spacingAndGlyphs">G+Ru(PMO-PFC) G''</text>
<text x="1405.84" y="1858.50" font-family='"Liberation Sans", Arial, sans-serif' font-size="38.2" font-weight="bold" textLength="265.07" lengthAdjust="spacingAndGlyphs">G+PMO-PFC G'</text>
<text x="1405.84" y="1906.70" font-family='"Liberation Sans", Arial, sans-serif' font-size="38.2" font-weight="bold" textLength="275.56" lengthAdjust="spacingAndGlyphs">G+PMO-PFC G''</text>
<text x="1405.78" y="1956.00" font-family='"Liberation Sans", Arial, sans-serif' font-size="38.2" font-weight="bold" textLength="167.67" lengthAdjust="spacingAndGlyphs">GelMa G'</text>
<text x="1405.78" y="2004.20" font-family='"Liberation Sans", Arial, sans-serif' font-size="38.2" font-weight="bold" textLength="176.34" lengthAdjust="spacingAndGlyphs">GelMa G''</text>
<text x="407.16" y="3027.00" font-family='"Liberation Sans", Arial, sans-serif' font-size="30.5" font-weight="bold" textLength="16.59" lengthAdjust="spacingAndGlyphs">0</text>
<text x="407.16" y="2910.77" font-family='"Liberation Sans", Arial, sans-serif' font-size="30.5" font-weight="bold" textLength="16.59" lengthAdjust="spacingAndGlyphs">2</text>
<text x="406.18" y="2794.53" font-family='"Liberation Sans", Arial, sans-serif' font-size="30.5" font-weight="bold" textLength="16.59" lengthAdjust="spacingAndGlyphs">4</text>
<text x="407.16" y="2678.30" font-family='"Liberation Sans", Arial, sans-serif' font-size="30.5" font-weight="bold" textLength="16.59" lengthAdjust="spacingAndGlyphs">6</text>
<text x="407.16" y="2562.07" font-family='"Liberation Sans", Arial, sans-serif' font-size="30.5" font-weight="bold" textLength="16.59" lengthAdjust="spacingAndGlyphs">8</text>
<text x="390.55" y="2445.83" font-family='"Liberation Sans", Arial, sans-serif' font-size="30.5" font-weight="bold" textLength="33.17" lengthAdjust="spacingAndGlyphs">10</text>
<text x="390.55" y="2329.60" font-family='"Liberation Sans", Arial, sans-serif' font-size="30.5" font-weight="bold" textLength="33.17" lengthAdjust="spacingAndGlyphs">12</text>
<text x="585.44" y="3080.60" font-family='"Liberation Sans", Arial, sans-serif' font-size="37.6" font-weight="bold" textLength="108.65" lengthAdjust="spacingAndGlyphs">GelMa</text>
<text x="912.29" y="3080.60" font-family='"Liberation Sans", Arial, sans-serif' font-size="37.6" font-weight="bold" textLength="204.84" lengthAdjust="spacingAndGlyphs">G+PMO-PFC</text>
<text x="1252.89" y="3080.60" font-family='"Liberation Sans", Arial, sans-serif' font-size="37.6" font-weight="bold" textLength="272.23" lengthAdjust="spacingAndGlyphs">G+Ru(PMO-PFC)</text>
<text x="1594.90" y="3080.60" font-family='"Liberation Sans", Arial, sans-serif' font-size="37.6" font-weight="bold" textLength="335.74" lengthAdjust="spacingAndGlyphs">G+Ru(PMO-PFC)PDL</text>
<text transform="translate(300.10 0.00) rotate(-90)" x="-2968.54" y="0" font-family='"Liberation Sans", Arial, sans-serif' font-size="60.6" font-weight="bold" textLength="601.69" lengthAdjust="spacingAndGlyphs">Compression Modulus</text>
<text transform="translate(378.50 0.00) rotate(-90)" x="-2747.84" y="0" font-family='"Liberation Sans", Arial, sans-serif' font-size="60.6" font-weight="bold" textLength="161.74" lengthAdjust="spacingAndGlyphs">(MPa)</text>
</svg>
</body></html>
